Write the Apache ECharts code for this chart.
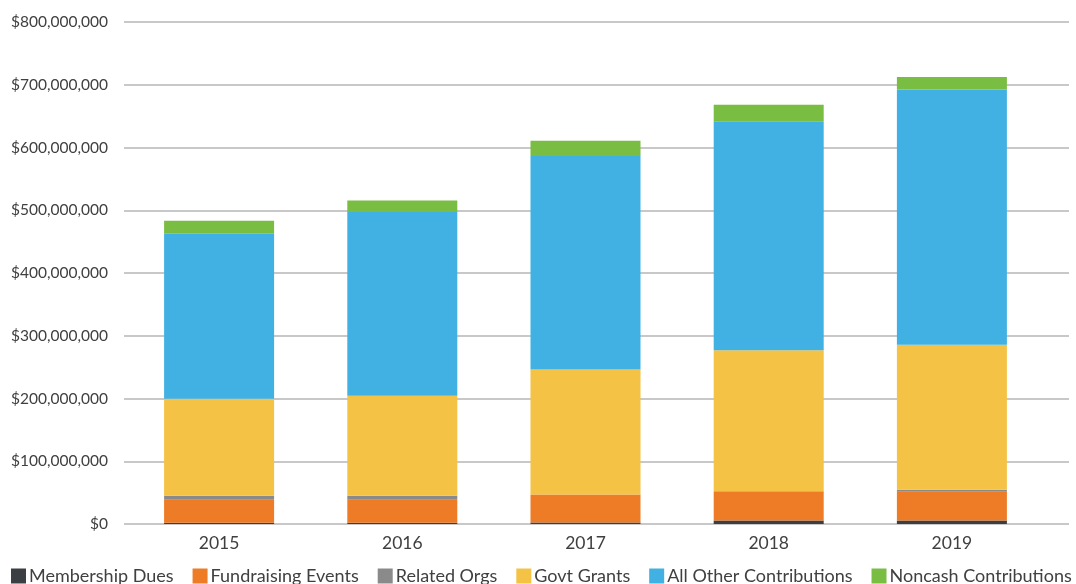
<!DOCTYPE html>
<html>
<head>
<meta charset="utf-8">
<script src="https://cdn.jsdelivr.net/npm/echarts@6/dist/echarts.min.js"></script>
<style>
html,body{margin:0;padding:0;background:#fff;}
#chart{width:1076px;height:584px;}
</style>
</head>
<body>
<div id="chart"></div>
<script>
const years = ['2015', '2016', '2017', '2018', '2019'];
const membershipDues = [2e6, 2e6, 2.5e6, 5.7e6, 5.7e6];
const fundraisingEvents = [36.7e6, 36.7e6, 44.7e6, 46.3e6, 45.8e6];
const relatedOrgs = [6.4e6, 6.4e6, 0, 0, 3e6];
const govtGrants = [154.6e6, 159.4e6, 199.2e6, 224.7e6, 231e6];
const allOtherContributions = [263e6, 292.6e6, 340e6, 365e6, 407e6];
const noncashContributions = [20.5e6, 18.3e6, 24.3e6, 26.3e6, 20e6];
const yTicks = { min: 0, max: 800e6, interval: 100e6 };

const seriesDefs = [
  ['Membership Dues', membershipDues, '#3b3e42'],
  ['Fundraising Events', fundraisingEvents, '#ee7b25'],
  ['Related Orgs', relatedOrgs, '#8a8a8a'],
  ['Govt Grants', govtGrants, '#f4c244'],
  ['All Other Contributions', allOtherContributions, '#41b1e3'],
  ['Noncash Contributions', noncashContributions, '#79bd42']
];

const font = 'Lato, "Noto Sans", sans-serif';
const chart = echarts.init(document.getElementById('chart'), null, {renderer: 'canvas'});
chart.setOption({
  animation: false,
  backgroundColor: '#ffffff',
  grid: [
    {left: 124, width: 945, top: 22, height: 502},
    {left: 127.5, width: 916, top: 22, height: 502}
  ],
  xAxis: [
    {gridIndex: 0, type: 'category', data: years, show: false},
    {gridIndex: 1, type: 'category', data: years,
     axisLine: {show: false}, axisTick: {show: false},
     axisLabel: {color: '#404040', fontFamily: font, fontSize: 17.5, margin: 10}}
  ],
  yAxis: [
    {gridIndex: 0, type: 'value', min: yTicks.min, max: yTicks.max, interval: yTicks.interval,
     axisLine: {show: false}, axisTick: {show: false},
     splitLine: {lineStyle: {color: '#c8c8c8', width: 2}},
     axisLabel: {color: '#404040', fontFamily: font, fontSize: 15.5, margin: 16,
       formatter: v => '$' + Math.round(v).toLocaleString('en-US')}},
    {gridIndex: 1, type: 'value', min: yTicks.min, max: yTicks.max, interval: yTicks.interval, show: false,
     splitLine: {show: false}}
  ],
  legend: {
    left: 11, top: 567, width: 1065, padding: 0,
    itemWidth: 15, itemHeight: 15, itemGap: 19,
    icon: 'rect',
    textStyle: {color: '#404040', fontFamily: font, fontSize: 18, padding: [0, 0, 0, -2]},
    data: seriesDefs.map(d => d[0])
  },
  series: seriesDefs.map(d => ({
    name: d[0], type: 'bar', stack: 'total', xAxisIndex: 1, yAxisIndex: 1,
    data: d[1], barWidth: 110,
    itemStyle: {color: d[2]}
  }))
});
</script>
</body>
</html>
